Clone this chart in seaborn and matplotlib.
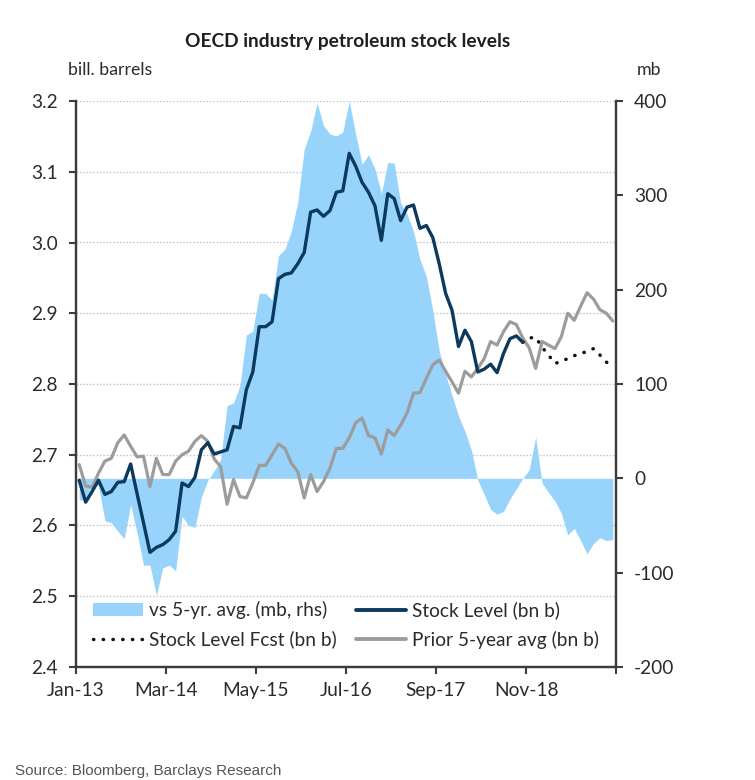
import numpy as np
import pandas as pd
import matplotlib
matplotlib.use("Agg")
import matplotlib.pyplot as plt
import seaborn as sns
from matplotlib.patches import Patch
from matplotlib.lines import Line2D
from matplotlib.ticker import FixedLocator

# ---------------- data (monthly, Jan-13 .. Dec-19) ----------------
tick_labels = ["Jan-13", "Mar-14", "May-15", "Jul-16", "Sep-17", "Nov-18", ""]
left_ticks = [2.4, 2.5, 2.6, 2.7, 2.8, 2.9, 3.0, 3.1, 3.2]
right_ticks = [-200, -100, 0, 100, 200, 300, 400]

stock_level = [2.664, 2.633, 2.648, 2.664, 2.644, 2.648, 2.661, 2.662, 2.687, 2.645,
               2.604, 2.562, 2.569, 2.573, 2.580, 2.592, 2.660, 2.655, 2.668, 2.707,
               2.717, 2.701, 2.704, 2.707, 2.740, 2.738, 2.792, 2.817, 2.881, 2.881,
               2.888, 2.949, 2.955, 2.957, 2.970, 2.986, 3.043, 3.046, 3.037, 3.045,
               3.071, 3.073, 3.126, 3.108, 3.085, 3.071, 3.052, 3.003, 3.069, 3.062,
               3.031, 3.050, 3.053, 3.020, 3.024, 3.007, 2.970, 2.928, 2.904, 2.853,
               2.876, 2.860, 2.817, 2.821, 2.828, 2.816, 2.843, 2.864, 2.868, 2.859]

fcst_start = 69
stock_fcst = [2.859, 2.865, 2.866, 2.852, 2.841, 2.829, 2.832, 2.836, 2.840, 2.843,
              2.846, 2.850, 2.841, 2.831, 2.824]

prior_avg = [2.686, 2.656, 2.654, 2.674, 2.691, 2.695, 2.717, 2.728, 2.712, 2.697,
             2.698, 2.655, 2.695, 2.672, 2.672, 2.691, 2.700, 2.705, 2.719, 2.727,
             2.719, 2.694, 2.683, 2.630, 2.665, 2.641, 2.639, 2.660, 2.685, 2.685,
             2.700, 2.715, 2.709, 2.688, 2.676, 2.639, 2.672, 2.648, 2.662, 2.681,
             2.709, 2.709, 2.724, 2.745, 2.752, 2.727, 2.724, 2.701, 2.735, 2.727,
             2.742, 2.759, 2.787, 2.788, 2.808, 2.827, 2.834, 2.818, 2.803, 2.787,
             2.818, 2.810, 2.822, 2.836, 2.860, 2.855, 2.874, 2.888, 2.884, 2.865,
             2.851, 2.822, 2.860, 2.855, 2.850, 2.867, 2.900, 2.890, 2.910, 2.929,
             2.920, 2.905, 2.900, 2.889]

vs_avg = [-23, -23, -6, -8, -45, -47, -56, -64, -28, -58,
          -92, -92, -124, -95, -92, -98, -40, -50, -52, -20,
          -2, 8, 20, 77, 80, 98, 152, 156, 196, 196,
          189, 236, 243, 262, 293, 349, 368, 398, 374, 365,
          363, 367, 400, 365, 333, 343, 328, 302, 335, 334,
          292, 280, 262, 232, 214, 178, 135, 110, 88, 66,
          50, 30, -2, -17, -33, -38, -35, -22, -11, 0,
          9, 44, -5, -15, -24, -37, -60, -53, -66, -80,
          -69, -63, -66, -65]

# ---------------- style ----------------
sns.set_theme(style="white")
plt.rcParams['font.family'] = ['Lato', 'DejaVu Sans']

BLUE = "#97d3fb"
NAVY = "#0c3a5e"
GRAY = "#9c9c9c"
SPINE = "#3c3c3c"
TXT = "#2b2b2b"
TICK_FS = 13.8

fig = plt.figure(figsize=(7.55, 7.8), dpi=100)
L, R, B, T = 76/755, 616/755, 1-667/780, 1-101/780
ax = fig.add_axes([L, B, R-L, T-B])
ax2 = ax.twinx()
ax.set_zorder(ax2.get_zorder() + 1)
ax.patch.set_visible(False)
ax2.patch.set_visible(True)
ax2.patch.set_facecolor("white")

# month positions (points centred in their month)
n = len(prior_avg)
x_all = np.arange(n) + 0.5
df_prior = pd.DataFrame({"month": x_all, "val": prior_avg})
df_stock = pd.DataFrame({"month": x_all[:len(stock_level)], "val": stock_level})
df_fcst = pd.DataFrame({"month": x_all[fcst_start:fcst_start+len(stock_fcst)], "val": stock_fcst})
df_vs = pd.DataFrame({"month": x_all, "val": vs_avg})

# area on right axis
ax2.fill_between(df_vs["month"], 0, df_vs["val"], color=BLUE, linewidth=0, zorder=2)

# lines on left axis
sns.lineplot(data=df_prior, x="month", y="val", ax=ax, color=GRAY, linewidth=2.3, legend=False)
sns.lineplot(data=df_fcst, x="month", y="val", ax=ax, color="#111111", linewidth=2.5,
             linestyle=(0, (0.1, 2.7)), dash_capstyle="round", legend=False)
sns.lineplot(data=df_stock, x="month", y="val", ax=ax, color=NAVY, linewidth=2.4, legend=False)

# axes limits and ticks
ax.set_xlim(0, n)
ax.set_xticks(np.arange(len(tick_labels)) * 14)
ax.set_xticklabels(tick_labels)
ax.set_ylim(left_ticks[0], left_ticks[-1])
ax.set_yticks(left_ticks)
ax.set_yticklabels([f"{v:.1f}" for v in left_ticks])
ax2.set_ylim(right_ticks[0], right_ticks[-1])
ax2.set_yticks(right_ticks)
ax2.set_yticklabels([str(v) for v in right_ticks])
ax.set_xlabel("")
ax.set_ylabel("")
ax2.set_ylabel("")

# gridlines (at left-axis values) drawn behind the area
lo, hi = left_ticks[0], left_ticks[-1]
rlo, rhi = right_ticks[0], right_ticks[-1]
grid_pos = [(v - lo) / (hi - lo) * (rhi - rlo) + rlo for v in left_ticks[1:]]
ax2.yaxis.set_minor_locator(FixedLocator(grid_pos))
ax2.yaxis.remove_overlapping_locs = False
ax2.grid(False)
ax.grid(False)
ax2.grid(which="minor", axis="y", color="#c9c9c9", linestyle=(0, (1.2, 1.2)), linewidth=1.0, zorder=0)
ax2.set_axisbelow(True)
ax2.tick_params(which="minor", length=0, left=False, right=False)

# spines
for a in (ax, ax2):
    a.spines["top"].set_visible(False)
    for s in ("left", "right", "bottom"):
        a.spines[s].set_color(SPINE)
        a.spines[s].set_linewidth(1.6)
ax.tick_params(axis="x", bottom=True, length=5, width=1.5, color=SPINE, direction="out",
               labelsize=TICK_FS, labelcolor=TXT, pad=6)
ax.tick_params(axis="y", left=True, right=False, length=5, width=1.5, color=SPINE,
               direction="out", labelsize=TICK_FS, labelcolor=TXT, pad=8)
ax2.tick_params(axis="y", which="major", right=True, left=False, length=5, width=1.5, color=SPINE,
                direction="out", labelsize=TICK_FS, labelcolor=TXT, pad=8)

# legend
handles = [
    Patch(facecolor=BLUE, edgecolor="none"),
    Line2D([], [], color="#111111", linewidth=2.5, linestyle=(0, (0.1, 2.7)), dash_capstyle="round"),
    Line2D([], [], color=NAVY, linewidth=2.8),
    Line2D([], [], color=GRAY, linewidth=2.8),
]
labels = ["vs 5-yr. avg. (mb, rhs)", "Stock Level Fcst (bn b)",
          "Stock Level (bn b)", "Prior 5-year avg (bn b)"]
ax.legend(handles, labels, ncol=2, frameon=False, fontsize=13.8, loc="center",
          bbox_to_anchor=(346/755, 1-625/780), bbox_transform=fig.transFigure,
          handlelength=2.6, handleheight=0.7, handletextpad=0.3, columnspacing=1.0,
          labelspacing=0.6, borderpad=0, labelcolor=TXT)

# texts
fig.text(348/755, 1-42/780, "OECD industry petroleum stock levels", ha="center", va="center",
         fontsize=13.8, fontweight="bold", color="#1f1f1f")
fig.text(68/755, 1-70/780, "bill. barrels", ha="left", va="center", fontsize=12.8, color=TXT)
fig.text(637/755, 1-70/780, "mb", ha="left", va="center", fontsize=12.8, color=TXT)
fig.text(15/755, 1-771/780, "Source: Bloomberg, Barclays Research", ha="left", va="center",
         fontsize=11, color="#555555", family=["Liberation Sans", "DejaVu Sans"])

fig.savefig("out.png", dpi=100)
